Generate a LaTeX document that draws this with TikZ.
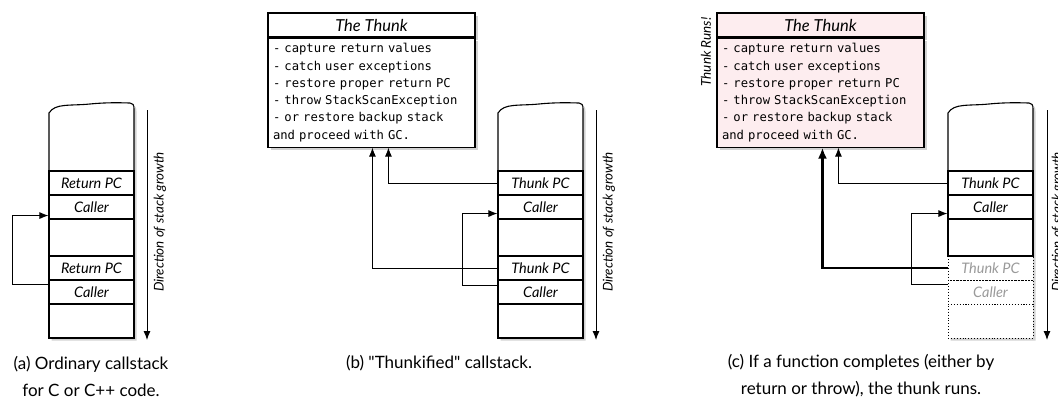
\documentclass[tikz,border=0pt]{standalone}
\usepackage{fontspec}
\setmainfont{Lato}[Ligatures=TeXOff]
\setmonofont{DejaVu Sans Mono}
\usetikzlibrary{arrows.meta,shadows,calc}
\definecolor{thunkpink}{HTML}{FDEDEF}
\definecolor{ghost}{HTML}{9A9A9A}
\begin{document}
\begin{tikzpicture}[x=1pt,y=-1pt,
  stackline/.style={line width=1.1pt},
  shad/.style={drop shadow={shadow xshift=2.5pt,shadow yshift=-2.5pt,fill=black!35,opacity=0.5}},
  rowbox/.style={draw,line width=1.1pt,minimum width=85pt,minimum height=24pt,inner sep=0pt,
    font=\itshape\fontsize{14.5}{16}\selectfont},
  ghostrow/.style={rowbox,line width=0.9pt,dash pattern=on 0.9pt off 2pt,text=ghost},
  ttl/.style={draw,line width=1.1pt,fill=white,minimum width=207pt,minimum height=24pt,inner sep=0pt,
    font=\itshape\fontsize{16.5}{18}\selectfont,shad},
  body/.style={draw,line width=1.1pt,fill=white,minimum width=207pt,minimum height=109pt,inner sep=5pt,
    text width=197pt,align=left,font=\ttfamily\fontsize{12.2}{17.3}\selectfont,shad},
  arr/.style={-{Latex[length=9pt,width=7pt]},line width=0.9pt},
  thickarr/.style={-{Latex[length=11pt,width=9pt]},line width=2.4pt},
  dirlabel/.style={rotate=90,font=\itshape\fontsize{13.4}{15}\selectfont},
  caption/.style={align=center,font=\fontsize{17}{27}\selectfont}
]
\useasboundingbox (0,0) rectangle (1058,415);

% ================= (a) =================
\path[stackline,draw,fill=white,shad] (49,338) -- (49,113)
  .. controls (55,103) and (70,106) .. (90,104)
  .. controls (110,102) and (126,103) .. (130,103)
  .. controls (133,103) and (134,105) .. (134,109) -- (134,338) -- cycle;
\node[rowbox] (a-r1) at (91.5,183) {Return PC};
\node[rowbox] (a-c1) at (91.5,207) {Caller};
\node[rowbox,minimum height=37pt] (a-e1) at (91.5,237.5) {};
\node[rowbox] (a-r2) at (91.5,268) {Return PC};
\node[rowbox] (a-c2) at (91.5,292) {Caller};
\node[rowbox,minimum height=34pt] (a-e2) at (91.5,321) {};
\draw[arr] ($(a-c2.north west)+(0,5)$) -- ++(-36,0) |- ($(a-c1.south west)+(0,-4)$);
\coordinate (a-d1) at (147,110);
\coordinate (a-d2) at (147,340);
\draw[arr] (a-d1) -- (a-d2);
\node[dirlabel] (a-dl) at (160,222) {Direction of stack growth};
\node[caption] (a-cap) at (91,376) {(a) Ordinary callstack\\for C or C++ code.};

% ================= (b) =================
\node[ttl] (b-title) at (371.5,25) {The Thunk};
\node[body,anchor=north] (b-body) at (b-title.south) {- capture return values\\- catch user exceptions\\- restore proper return PC\\- throw StackScanException\\- or restore backup stack\\and proceed with GC.};
\path[stackline,draw,fill=white,shad] (498,338) -- (498,113)
  .. controls (504,103) and (519,106) .. (539,104)
  .. controls (559,102) and (575,103) .. (579,103)
  .. controls (582,103) and (583,105) .. (583,109) -- (583,338) -- cycle;
\node[rowbox] (b-t1) at (540.5,183) {Thunk PC};
\node[rowbox] (b-c1) at (540.5,207) {Caller};
\node[rowbox,minimum height=37pt] (b-e1) at (540.5,237.5) {};
\node[rowbox] (b-t2) at (540.5,268) {Thunk PC};
\node[rowbox] (b-c2) at (540.5,292) {Caller};
\node[rowbox,minimum height=34pt] (b-e2) at (540.5,321) {};
\draw[arr] (b-t1.west) -| ($(b-body.south west)+(121,0)$);
\draw[arr] (b-t2.west) -| ($(b-body.south west)+(105,0)$);
\draw[arr] ($(b-c2.north west)+(0,6)$) -- ++(-35,0) |- ($(b-c1.south west)+(0,-6)$);
\coordinate (b-d1) at (596,110);
\coordinate (b-d2) at (596,340);
\draw[arr] (b-d1) -- (b-d2);
\node[dirlabel] (b-dl) at (609,222) {Direction of stack growth};
\node[caption] (b-cap) at (439,363) {(b) "Thunkified" callstack.};

% ================= (c) =================
\node[ttl,fill=thunkpink] (c-title) at (820.5,25) {The Thunk};
\node[body,fill=thunkpink,anchor=north] (c-body) at (c-title.south) {- capture return values\\- catch user exceptions\\- restore proper return PC\\- throw StackScanException\\- or restore backup stack\\and proceed with GC.};
\node[rotate=90,font=\itshape\fontsize{13.5}{15}\selectfont] (c-runs) at (706,52) {Thunk Runs!};
\path[fill=white,shad] (948,338) -- (948,113)
  .. controls (954,103) and (969,106) .. (989,104)
  .. controls (1009,102) and (1025,103) .. (1029,103)
  .. controls (1032,103) and (1033,105) .. (1033,109) -- (1033,338) -- cycle;
\draw[stackline] (948,256) -- (948,113)
  .. controls (954,103) and (969,106) .. (989,104)
  .. controls (1009,102) and (1025,103) .. (1029,103)
  .. controls (1032,103) and (1033,105) .. (1033,109) -- (1033,256) -- cycle;
\node[rowbox] (c-t1) at (990.5,183) {Thunk PC};
\node[rowbox] (c-c1) at (990.5,207) {Caller};
\node[rowbox,minimum height=37pt] (c-e1) at (990.5,237.5) {};
\node[ghostrow] (c-t2) at (990.5,268) {Thunk PC};
\node[ghostrow] (c-c2) at (990.5,292) {Caller};
\node[ghostrow,minimum height=34pt] (c-e2) at (990.5,321) {};
\draw[stackline] (c-e1.south west) -- (c-e1.south east);
\draw[arr] (c-t1.west) -| ($(c-body.south west)+(122,0)$);
\draw[thickarr] (c-t2.west) -| ($(c-body.south west)+(106,0)$);
\draw[arr] ($(c-c2.north west)+(0,5)$) -- ++(-36,0) |- ($(c-c1.south west)+(0,-6)$);
\coordinate (c-d1) at (1047,110);
\coordinate (c-d2) at (1047,340);
\draw[arr] (c-d1) -- (c-d2);
\node[dirlabel] (c-dl) at (1058,222) {Direction of stack growth};
\node[caption] (c-cap) at (861,376) {(c) If a function completes (either by\\return or throw), the thunk runs.};
\end{tikzpicture}
\end{document}
